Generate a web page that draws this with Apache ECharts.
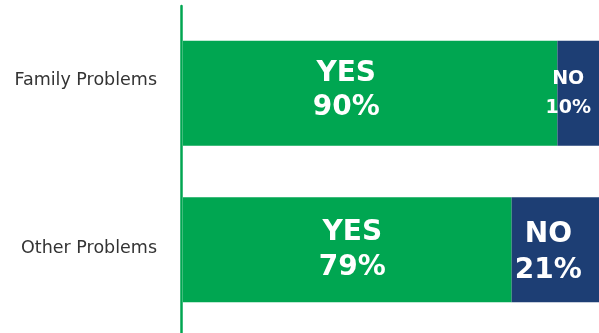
<!DOCTYPE html>
<html>
<head>
<meta charset="utf-8">
<script src="https://cdn.jsdelivr.net/npm/echarts@6/dist/echarts.min.js"></script>
<style>
  html, body { margin: 0; padding: 0; background: #fff; }
  #chart { width: 599px; height: 333px; }
</style>
</head>
<body>
<div id="chart"></div>
<script>
// Survey answers per problem type (percent)
const categories = ['Family Problems', 'Other Problems'];
const yesValues = [90, 79];
const noValues = [10, 21];
const yesName = 'YES';
const noName = 'NO';

const GREEN = '#00a651';
const NAVY = '#1d3e74';

// per-bar label tuning: [dx, dy, fontSize, lineHeight]
const yesLabelStyle = [[-24, -3, 28, 34], [5, 0, 28, 35]];
const noLabelStyle = [[-10, 0, 19, 29], [-7, 3, 28, 36]];

function labelFor(name, value, style) {
  return {
    show: true,
    position: 'inside',
    offset: [style[0], style[1]],
    formatter: name + '\n' + value + '%',
    color: '#fff',
    fontFamily: 'DejaVu Sans',
    fontWeight: 'bold',
    fontSize: style[2],
    lineHeight: style[3],
    align: 'center'
  };
}

const catText = { color: '#333', fontFamily: 'DejaVu Sans', fontSize: 17.5 };

const chart = echarts.init(document.getElementById('chart'), null, { renderer: 'canvas' });

chart.setOption({
  animation: false,
  grid: [
    { left: 183, right: 0, top: 15, bottom: 5, containLabel: false },
    { left: 181, right: 0, top: 6, bottom: 0, containLabel: false }
  ],
  xAxis: [
    { gridIndex: 0, type: 'value', min: 0, max: 100, show: false },
    { gridIndex: 1, type: 'value', min: 0, max: 1, show: false }
  ],
  yAxis: [
    {
      gridIndex: 0,
      type: 'category',
      inverse: true,
      data: categories,
      axisLine: { show: false },
      axisTick: { show: false },
      axisLabel: {
        margin: 26,
        color: '#333',
        fontFamily: 'DejaVu Sans',
        fontSize: 17.5,
        formatter: function (value, index) {
          return '{c' + index + '|' + value + '}';
        },
        rich: {
          // first label sits a little above its bar
          c0: Object.assign({ padding: [0, 0, 26, 0] }, catText),
          c1: Object.assign({ padding: [0, 0, 3, 0] }, catText)
        }
      }
    },
    {
      gridIndex: 1,
      type: 'value',
      min: 0,
      max: 1,
      axisLine: { show: true, lineStyle: { color: GREEN, width: 2.5 } },
      axisTick: { show: false },
      axisLabel: { show: false },
      splitLine: { show: false }
    }
  ],
  series: [
    {
      name: yesName,
      type: 'bar',
      stack: 'total',
      barWidth: 105,
      xAxisIndex: 0,
      yAxisIndex: 0,
      itemStyle: { color: GREEN },
      data: yesValues.map(function (v, i) {
        return { value: v, label: labelFor(yesName, v, yesLabelStyle[i]) };
      })
    },
    {
      name: noName,
      type: 'bar',
      stack: 'total',
      barWidth: 105,
      xAxisIndex: 0,
      yAxisIndex: 0,
      itemStyle: { color: NAVY },
      data: noValues.map(function (v, i) {
        return { value: v, label: labelFor(noName, v, noLabelStyle[i]) };
      })
    }
  ]
});
</script>
</body>
</html>
